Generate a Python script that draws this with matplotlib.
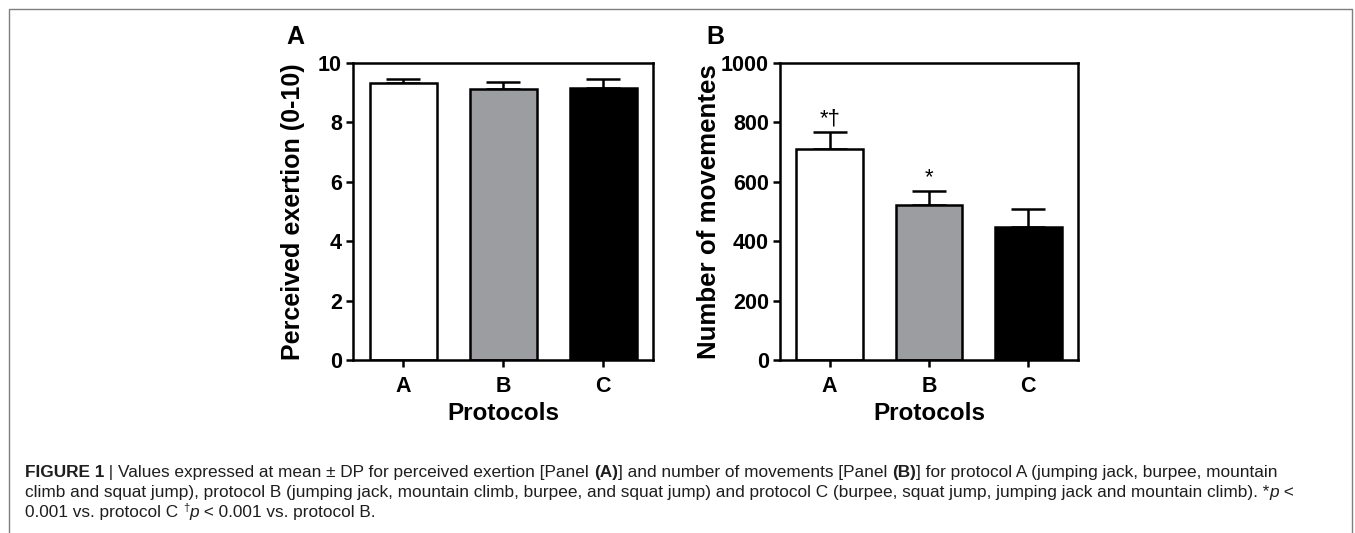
import matplotlib
matplotlib.use('Agg')
import matplotlib.pyplot as plt
from matplotlib import font_manager as fm
from matplotlib.lines import Line2D

# data
protocols = ['A', 'B', 'C']
exertion = [9.31, 9.11, 9.16]
exertion_err = [0.15, 0.26, 0.29]
movements = [710, 521, 447]
movements_err = [56, 47, 63]
marks = ['*\u2020', '*', '']

bar_colors = ['white', '#9c9da1', 'black']

plt.rcParams['font.family'] = ['Liberation Sans', 'DejaVu Sans']

try:
    fm.findfont('Liberation Sans Narrow', fallback_to_default=False)
    cap_font = 'Liberation Sans Narrow'
    cap_size = 13.9
except Exception:
    cap_font = 'Liberation Sans'
    cap_size = 12.4

W, H = 1355, 533
fig = plt.figure(figsize=(W / 100, H / 100), dpi=100)

def panel(left, width, vals, errs, ylim, yticks, ylabel, label_x, label_size, letter, letter_x):
    ax = fig.add_axes([left / W, 1 - 360 / H, width / W, 297 / H])
    x = range(len(vals))
    ax.errorbar(x, vals, yerr=[[0] * len(errs), errs], fmt='none', ecolor='black',
                elinewidth=1.8, capsize=12, capthick=1.8, zorder=1)
    ax.bar(x, vals, width=0.67, color=bar_colors, edgecolor='black', linewidth=1.8, zorder=2)
    ax.set_xlim(-0.5, 2.5)
    ax.set_ylim(*ylim)
    ax.set_yticks(yticks)
    ax.set_xticks(list(x))
    ax.set_xticklabels(protocols)
    for s in ax.spines.values():
        s.set_linewidth(1.8)
    ax.tick_params(width=1.8, length=5, labelsize=15.5, pad=3)
    ax.tick_params(axis='x', pad=6.5)
    for t in ax.get_xticklabels() + ax.get_yticklabels():
        t.set_fontweight('bold')
    ax.set_ylabel(ylabel, fontsize=label_size, fontweight='bold')
    ax.yaxis.set_label_coords(label_x, 0.5)
    ax.set_xlabel('Protocols', fontsize=17.5, fontweight='bold')
    ax.xaxis.set_label_coords(0.5, -0.14)
    fig.text(letter_x / W, 1 - 37 / H, letter, fontsize=18, fontweight='bold',
             ha='left', va='center')
    return ax

axA = panel(353, 300, exertion, exertion_err, (0, 10), range(0, 11, 2),
            'Perceived exertion (0-10)', -0.16, 18, 'A', 286)
axB = panel(780, 298, movements, movements_err, (0, 1000), range(0, 1001, 200),
            'Number of movementes', -0.198, 18.6, 'B', 706)

for i, (v, e, m) in enumerate(zip(movements, movements_err, marks)):
    if m:
        axB.text(i, v + e + 10, m, ha='center', va='bottom', fontsize=16)

# frame: left, top and right edges (bottom runs off the image)
fx = [9 / W, 9 / W, 1352 / W, 1352 / W]
fy = [0, 1 - 9 / H, 1 - 9 / H, 0]
fig.add_artist(Line2D(fx, fy, transform=fig.transFigure, color='#7f7f7f', linewidth=1))

# caption with mixed styles
renderer = fig.canvas.get_renderer()

def rich_line(y, pieces, x0=25):
    x = x0
    for txt, style in pieces:
        kw = dict(fontsize=cap_size, family=[cap_font, 'DejaVu Sans'], color='#1e1e1e',
                  va='baseline', ha='left')
        if style == 'b':
            kw['fontweight'] = 'bold'
        elif style == 'i':
            kw['fontstyle'] = 'italic'
        elif style == 'sup':
            kw['fontsize'] = cap_size * 0.65
        yy = y - 6 if style == 'sup' else y
        t = fig.text(x / W, 1 - yy / H, txt, **kw)
        x += t.get_window_extent(renderer).width

rich_line(477, [('FIGURE 1', 'b'), (' | ', 'r'),
                ('Values expressed at mean \u00b1 DP for perceived exertion [Panel ', 'r'),
                ('(A)', 'b'), ('] and number of movements [Panel ', 'r'), ('(B)', 'b'),
                ('] for protocol A (jumping jack, burpee, mountain', 'r')])
rich_line(497, [('climb and squat jump), protocol B (jumping jack, mountain climb, burpee, and squat jump) '
                 'and protocol C (burpee, squat jump, jumping jack and mountain climb). *', 'r'),
                ('p', 'i'), (' <', 'r')])
rich_line(517, [('0.001 vs. protocol C ', 'r'), ('\u2020', 'sup'), ('p', 'i'),
                (' < 0.001 vs. protocol B.', 'r')])

fig.savefig('out.png', dpi=100)
